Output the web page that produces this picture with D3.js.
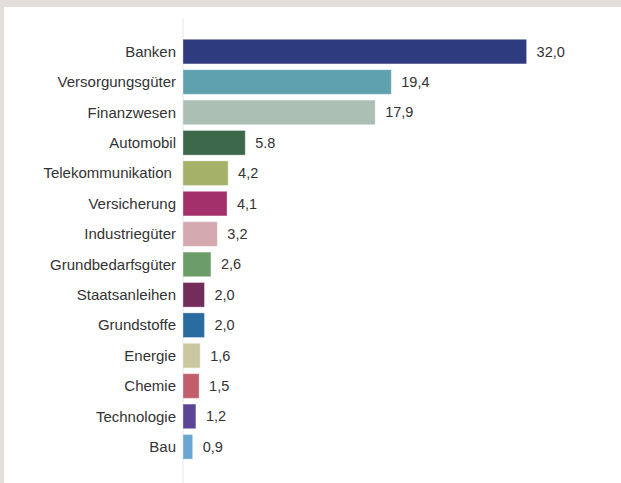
<!DOCTYPE html>
<html>
<head>
<meta charset="utf-8">
<script src="https://cdn.jsdelivr.net/npm/d3@7"></script>
<style>
  html, body { margin: 0; padding: 0; background: #e3ded9; }
  svg { display: block; }
</style>
</head>
<body>
<svg id="chart" width="621" height="483"></svg>
<script>
// Sector weights (%) as shown in the chart
const categories = ["Banken", "Versorgungsgüter", "Finanzwesen", "Automobil", "Telekommunikation ",
  "Versicherung", "Industriegüter", "Grundbedarfsgüter", "Staatsanleihen", "Grundstoffe",
  "Energie", "Chemie", "Technologie", "Bau"];
const values = [32.0, 19.4, 17.9, 5.8, 4.2, 4.1, 3.2, 2.6, 2.0, 2.0, 1.6, 1.5, 1.2, 0.9];
const valueLabels = ["32,0", "19,4", "17,9", "5.8", "4,2", "4,1", "3,2", "2,6", "2,0", "2,0", "1,6", "1,5", "1,2", "0,9"];
const colours = ["#2e3b7e", "#5fa2ae", "#abbfb5", "#3c6849", "#a5b068", "#a2306a", "#d4aab0",
  "#6c9d69", "#722d5a", "#2a6c9f", "#c8c7a0", "#c25e6c", "#5b4597", "#6ba6d3"];

const svg = d3.select("#chart");

// white panel on the beige page
svg.append("rect")
    .attr("x", 4).attr("y", 7)
    .attr("width", 617).attr("height", 476)
    .attr("fill", "#ffffff");

const x = d3.scaleLinear().domain([0, 32]).range([183, 526.6]);
const y = d3.scaleBand()
    .domain(categories)
    .range([36.4, 36.4 + categories.length * 30.4])
    .paddingInner(0.19)
    .paddingOuter(0.095);

// baseline
svg.append("line")
    .attr("x1", x(0)).attr("x2", x(0))
    .attr("y1", 19).attr("y2", 483)
    .attr("stroke", "#e6e6e6")
    .attr("stroke-width", 1);

const rows = categories.map((c, i) => ({cat: c, val: values[i], label: valueLabels[i], col: colours[i]}));

svg.selectAll(".bar")
    .data(rows)
    .join("rect")
    .attr("class", "bar")
    .attr("x", x(0))
    .attr("y", d => y(d.cat))
    .attr("width", d => x(d.val) - x(0))
    .attr("height", y.bandwidth())
    .attr("fill", d => d.col)
    .attr("stroke", "#ffffff")
    .attr("stroke-opacity", 0.35)
    .attr("stroke-width", 1);

svg.selectAll(".cat")
    .data(rows)
    .join("text")
    .attr("class", "cat")
    .attr("x", 176)
    .attr("y", d => y(d.cat) + y.bandwidth() / 2)
    .attr("dy", "0.35em")
    .attr("text-anchor", "end")
    .style("white-space", "pre")
    .attr("font-family", "Liberation Sans, Arial, sans-serif")
    .attr("font-size", 15)
    .attr("fill", "#333333")
    .text(d => d.cat);

svg.selectAll(".val")
    .data(rows)
    .join("text")
    .attr("class", "val")
    .attr("x", d => x(d.val) + 10)
    .attr("y", d => y(d.cat) + y.bandwidth() / 2)
    .attr("dy", "0.35em")
    .attr("font-family", "Liberation Sans, Arial, sans-serif")
    .attr("font-size", 14.5)
    .attr("fill", "#333333")
    .text(d => d.label);
</script>
</body>
</html>
